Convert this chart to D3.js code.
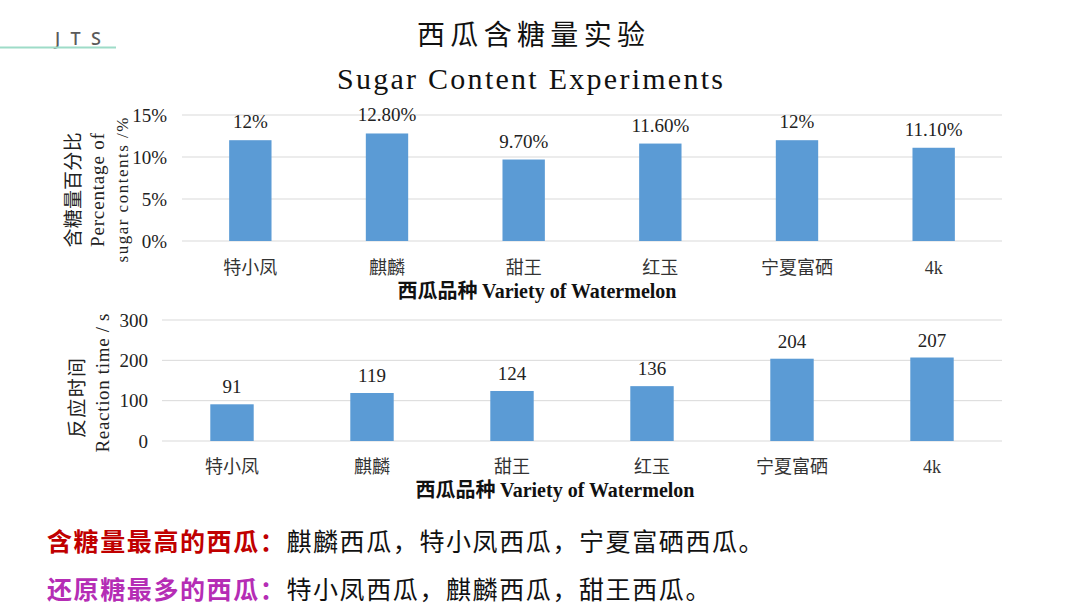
<!DOCTYPE html>
<html><head><meta charset="utf-8">
<script src="https://cdn.jsdelivr.net/npm/d3@7"></script>
<style>body{margin:0;background:#fff}svg{display:block}</style>
</head><body>
<svg id="c" width="1080" height="614"></svg>
<script>
const categories = ["特小凤","麒麟","甜王","红玉","宁夏富硒","4k"];
const sugarValues = [12, 12.8, 9.7, 11.6, 12, 11.1];
const sugarLabels = ["12%","12.80%","9.70%","11.60%","12%","11.10%"];
const sugarTicks = [0, 5, 10, 15];
const timeValues = [91, 119, 124, 136, 204, 207];
const timeTicks = [0, 100, 200, 300];

const SERIF = "'Liberation Serif','Times New Roman','Noto Sans CJK SC',serif";
const CJK = "'Noto Sans CJK SC',sans-serif";
const svg = d3.select("#c");

// header
svg.append("text").attr("x",55).attr("y",45).attr("font-family","'Noto Sans',sans-serif")
  .attr("font-size",18).attr("font-weight",500).attr("fill","#5a5a5a").attr("textLength",46).attr("lengthAdjust","spacing").text("JTS");
svg.append("line").attr("x1",0).attr("x2",116).attr("y1",47.5).attr("y2",47.5)
  .attr("stroke","#9edcc8").attr("stroke-width",2);
svg.append("text").attr("x",531).attr("y",45).attr("text-anchor","middle").attr("font-family",CJK)
  .attr("font-size",28).attr("fill","#111").attr("textLength",228).attr("lengthAdjust","spacing").text("西瓜含糖量实验");
svg.append("text").attr("x",530).attr("y",89).attr("text-anchor","middle").attr("font-family",SERIF)
  .attr("font-size",30).attr("fill","#111").attr("textLength",386).attr("lengthAdjust","spacing").text("Sugar Content Experiments");

function chart(opt){
  const x = d3.scaleBand().domain(categories).range(opt.xr);
  const y = d3.scaleLinear().domain(opt.domain).range(opt.yr);
  const g = svg.append("g");
  g.selectAll("line.grid").data(opt.ticks).join("line")
    .attr("x1",opt.xr[0]).attr("x2",opt.xr[1])
    .attr("y1",d=>y(d)).attr("y2",d=>y(d))
    .attr("stroke","#d9d9d9").attr("stroke-width",1);
  const ax = g.append("g").attr("transform",`translate(${opt.tickX},0)`)
    .call(d3.axisLeft(y).tickValues(opt.ticks).tickSize(0).tickPadding(0).tickFormat(opt.fmt));
  ax.select(".domain").remove();
  ax.selectAll("text").attr("font-family",SERIF).attr("font-size",19).attr("fill","#222");
  const bw = x.bandwidth()*0.31;
  g.selectAll("rect").data(opt.values).join("rect")
    .attr("x",(d,i)=>x(categories[i])+x.bandwidth()/2-bw/2)
    .attr("width",bw).attr("y",d=>y(d)).attr("height",d=>y(0)-y(d)).attr("fill","#5b9bd5");
  g.selectAll("text.val").data(opt.values).join("text").attr("class","val")
    .attr("x",(d,i)=>x(categories[i])+x.bandwidth()/2).attr("y",d=>y(d)-opt.labelGap)
    .attr("text-anchor","middle").attr("font-family",SERIF).attr("font-size",19).attr("fill","#222")
    .text((d,i)=>opt.labels[i]);
  g.selectAll("text.cat").data(categories).join("text").attr("class","cat")
    .attr("x",d=>x(d)+x.bandwidth()/2).attr("y",opt.catY)
    .attr("text-anchor","middle").attr("font-family",SERIF).attr("font-size",18).attr("fill","#333")
    .text(d=>d);
  const t = g.append("text").attr("x",opt.xtX).attr("y",opt.xtY).attr("text-anchor","middle")
    .attr("font-family",SERIF).attr("font-size",20).attr("font-weight","bold").attr("fill","#111");
  t.append("tspan").attr("font-family",CJK).attr("font-weight","bold").text("西瓜品种 ");
  t.append("tspan").text("Variety of Watermelon");
  opt.ytitles.forEach(o=>{
    const tt = g.append("text").attr("transform",`translate(${o.x},${o.y}) rotate(-90)`)
      .attr("text-anchor","middle").attr("font-family",o.f).attr("font-size",o.s).attr("fill","#222")
      .text(o.t);
    if (o.len) tt.attr("textLength",o.len).attr("lengthAdjust","spacing");
  });
}

chart({xr:[182,1002], yr:[241,115], domain:[0,15], ticks:sugarTicks, values:sugarValues,
  labels:sugarLabels, fmt:d=>d+"%", tickX:167, labelGap:12, catY:274,
  xtX:537, xtY:298,
  ytitles:[{x:80,y:190,t:"含糖量百分比",f:CJK,s:19,len:115},
           {x:104,y:190,t:"Percentage of",f:SERIF,s:19,len:114},
           {x:128,y:190,t:"sugar contents /%",f:SERIF,s:17,len:145}]});

chart({xr:[162,1002], yr:[441,320], domain:[0,300], ticks:timeTicks, values:timeValues,
  labels:timeValues.map(String), fmt:d=>String(d), tickX:148, labelGap:11, catY:473,
  xtX:555, xtY:497,
  ytitles:[{x:84,y:398,t:"反应时间",f:CJK,s:19,len:80},
           {x:109,y:383,t:"Reaction time / s",f:SERIF,s:19,len:139}]});

const n1 = svg.append("text").attr("x",47).attr("y",551).attr("font-family",CJK).attr("font-size",25).attr("letter-spacing",1.6);
n1.append("tspan").attr("fill","#c00000").attr("font-weight","bold").text("含糖量最高的西瓜：");
n1.append("tspan").attr("fill","#111").text("麒麟西瓜，特小凤西瓜，宁夏富硒西瓜。");
const n2 = svg.append("text").attr("x",47).attr("y",599).attr("font-family",CJK).attr("font-size",25).attr("letter-spacing",1.6);
n2.append("tspan").attr("fill","#b52db5").attr("font-weight","bold").text("还原糖最多的西瓜：");
n2.append("tspan").attr("fill","#111").text("特小凤西瓜，麒麟西瓜，甜王西瓜。");
</script>
</body></html>
